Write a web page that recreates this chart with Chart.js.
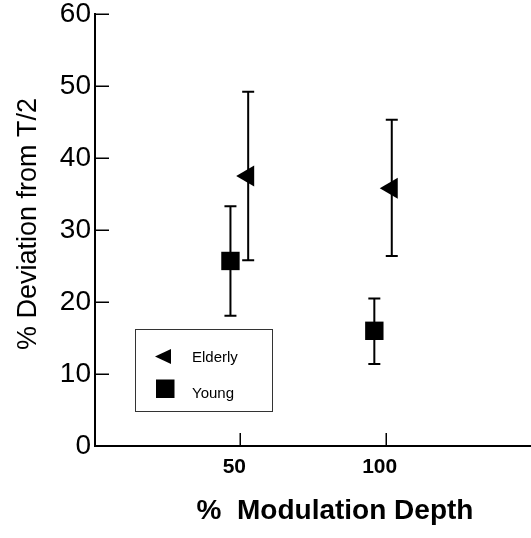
<!DOCTYPE html>
<html>
<head>
<meta charset="utf-8">
<script src="https://cdn.jsdelivr.net/npm/chart.js@4.4.0/dist/chart.umd.min.js"></script>
<style>
  html, body { margin: 0; padding: 0; background: #fff; overflow: hidden; }
  .contenedor { position: relative; width: 531px; height: 538px; }
  canvas { display: block; }
</style>
</head>
<body>
<div class="contenedor"><canvas id="grafica"></canvas></div>
<script>
var grupos = ['Elderly', 'Young'];
var elderlyX = [52.7, 102.1];
var elderlyY = [37.5, 35.8];
var elderlyLow = [25.8, 26.4];
var elderlyHigh = [49.2, 45.3];
var youngX = [46.6, 96.1];
var youngY = [25.7, 16.0];
var youngLow = [18.1, 11.4];
var youngHigh = [33.3, 20.5];
var xTicks = [50, 100];
var yTicks = [0, 10, 20, 30, 40, 50, 60];
var xTitle = '%  Modulation Depth';
var yTitle = '% Deviation from T/2';

var fuente = '"Liberation Sans", Arial, sans-serif';

function puntos(xs, ys) {
  return xs.map(function (x, i) { return { x: x, y: ys[i] }; });
}

// barras de error, ticks hacia dentro, titulos y leyenda
var extras = {
  id: 'extras',
  beforeDatasetsDraw: function (chart) {
    var ctx = chart.ctx;
    var sx = chart.scales.x, sy = chart.scales.y;
    var series = [
      [elderlyX, elderlyLow, elderlyHigh],
      [youngX, youngLow, youngHigh]
    ];
    ctx.save();
    ctx.strokeStyle = '#000';
    ctx.lineWidth = 2;
    series.forEach(function (s) {
      s[0].forEach(function (x, i) {
        var px = sx.getPixelForValue(x);
        var lo = sy.getPixelForValue(s[1][i]);
        var hi = sy.getPixelForValue(s[2][i]);
        ctx.beginPath();
        ctx.moveTo(px, lo); ctx.lineTo(px, hi);
        ctx.moveTo(px - 6, lo); ctx.lineTo(px + 6, lo);
        ctx.moveTo(px - 6, hi); ctx.lineTo(px + 6, hi);
        ctx.stroke();
      });
    });
    ctx.restore();
  },
  afterDraw: function (chart) {
    var ctx = chart.ctx;
    var ca = chart.chartArea;
    var sx = chart.scales.x, sy = chart.scales.y;
    ctx.save();
    ctx.strokeStyle = '#000';
    ctx.lineWidth = 1.5;
    ctx.beginPath();
    yTicks.forEach(function (v) {
      var py = Math.round(sy.getPixelForValue(v)) + 0.25;
      ctx.moveTo(ca.left, py); ctx.lineTo(ca.left + 14, py);
    });
    xTicks.forEach(function (v) {
      var px = Math.round(sx.getPixelForValue(v)) + 0.25;
      ctx.moveTo(px, ca.bottom); ctx.lineTo(px, ca.bottom - 13);
    });
    ctx.stroke();

    // titulos de ejes
    ctx.fillStyle = '#000';
    ctx.textAlign = 'center';
    ctx.textBaseline = 'middle';
    ctx.font = 'bold 28px ' + fuente;
    ctx.fillText(xTitle, 335, 511);
    ctx.save();
    ctx.translate(29, 224);
    ctx.rotate(-Math.PI / 2);
    ctx.font = '27px ' + fuente;
    ctx.fillText(yTitle, 0, 0);
    ctx.restore();

    // leyenda
    var bx = 135, by = 329, bw = 137, bh = 82;
    ctx.lineWidth = 1;
    ctx.strokeStyle = '#333';
    ctx.strokeRect(bx + 0.5, by + 0.5, bw, bh);
    ctx.fillStyle = '#000';
    ctx.beginPath();
    ctx.moveTo(155, 356.5);
    ctx.lineTo(171, 349);
    ctx.lineTo(171, 364);
    ctx.closePath();
    ctx.fill();
    ctx.fillRect(156, 379.5, 18.5, 18.5);
    ctx.font = '15px ' + fuente;
    ctx.textAlign = 'left';
    ctx.textBaseline = 'alphabetic';
    ctx.fillText(grupos[0], 192, 362);
    ctx.fillText(grupos[1], 192, 398);
    ctx.restore();
  }
};

new Chart(document.getElementById('grafica'), {
  type: 'scatter',
  data: {
    datasets: [
      {
        label: grupos[0],
        data: puntos(elderlyX, elderlyY),
        pointStyle: 'triangle',
        rotation: -90,
        radius: 12,
        backgroundColor: '#000',
        borderColor: '#000',
        borderWidth: 0
      },
      {
        label: grupos[1],
        data: puntos(youngX, youngY),
        pointStyle: 'rect',
        radius: 13,
        backgroundColor: '#000',
        borderColor: '#000',
        borderWidth: 0
      }
    ]
  },
  options: {
    responsive: true,
    maintainAspectRatio: false,
    animation: false,
    layout: { autoPadding: false, padding: { top: 14, right: 0, left: 0, bottom: 0 } },
    plugins: {
      legend: { display: false },
      tooltip: { enabled: false }
    },
    scales: {
      x: {
        type: 'linear',
        min: 0,
        max: 150,
        afterBuildTicks: function (s) {
          s.ticks = xTicks.map(function (v) { return { value: v }; });
        },
        afterFit: function (s) {
          s.height = 92;
          s.paddingLeft = 0;
          s.paddingRight = 0;
        },
        grid: { display: false, drawTicks: false },
        border: { display: true, color: '#000', width: 2 },
        ticks: {
          color: '#000',
          padding: 9,
          labelOffset: -6,
          font: { family: fuente, size: 21, weight: 'bold' }
        }
      },
      y: {
        min: 0,
        max: 60,
        afterBuildTicks: function (s) {
          s.ticks = yTicks.map(function (v) { return { value: v }; });
        },
        afterFit: function (s) {
          s.width = 95;
          s.paddingTop = 0;
          s.paddingBottom = 0;
        },
        grid: { display: false, drawTicks: false },
        border: { display: true, color: '#000', width: 2 },
        ticks: {
          color: '#000',
          padding: 4,
          font: { family: fuente, size: 28, lineHeight: 1 }
        }
      }
    }
  },
  plugins: [extras]
});
</script>
</body>
</html>
